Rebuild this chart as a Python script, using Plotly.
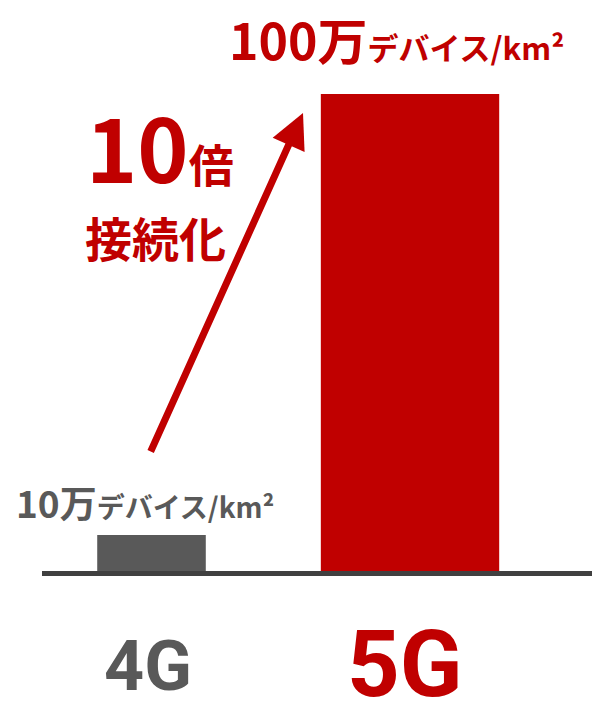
import plotly.graph_objects as go

# ---- data ----
categories = ["4G", "5G"]
density_man = [10, 100]          # 万デバイス/km²
bar_colors = ["#595959", "#C00000"]
value_labels = ["10万", "100万"]
unit_label = "デバイス/km²"
ratio_label = "10倍"
ratio_sub = "接続化"

W, H = 592, 701
ML, MR, MT, MB = 42, 0, 0, 130
PW, PH = W - ML - MR, H - MT - MB

def py(p):  # pixel y -> paper y
    return (H - MB - p) / PH

def px(p):  # pixel x -> paper x
    return (p - ML) / PW

JP = "Noto Sans CJK JP"
RED = "#C00000"
GRAY = "#595959"

fig = go.Figure()
fig.add_trace(go.Bar(
    x=categories, y=density_man,
    width=[0.42, 0.69],
    marker=dict(color=bar_colors, line=dict(width=0)),
    hoverinfo="skip",
))

ann = []
# value labels above bars
ann.append(dict(
    x=categories[0], xref="x", xshift=-7, y=py(502), yref="paper",
    xanchor="center", yanchor="middle", showarrow=False,
    text=f"{value_labels[0]}<span style='font-size:28px'>{unit_label}</span>",
    font=dict(family=JP, size=37, color=GRAY, weight=700),
))
ann.append(dict(
    x=categories[1], xref="x", xshift=-14, y=py(38), yref="paper",
    xanchor="center", yanchor="middle", showarrow=False,
    text=f"{value_labels[1]}<span style='font-size:31px'>{unit_label}</span>",
    font=dict(family=JP, size=50, color=RED, weight=700),
))
# ratio text
ann.append(dict(
    x=px(84), xref="paper", y=py(145), yref="paper",
    xanchor="left", yanchor="middle", showarrow=False,
    text=f"{ratio_label[:2]}<span style='font-size:45px'>{ratio_label[2:]}</span>",
    font=dict(family=JP, size=87, color=RED, weight=700),
))
ann.append(dict(
    x=px(83), xref="paper", y=py(236), yref="paper",
    xanchor="left", yanchor="middle", showarrow=False,
    text=ratio_sub,
    font=dict(family=JP, size=47, color=RED, weight=700),
))
# arrow
ann.append(dict(
    x=px(303), y=py(113), xref="x domain", yref="y domain",
    ax=px(150), ay=py(453), axref="x domain", ayref="y domain",
    text="", showarrow=True, arrowhead=2, arrowsize=1.0, arrowwidth=7,
    arrowcolor=RED, standoff=0, startstandoff=0,
))
# category labels
for c, col, sz, cy, dx in zip(categories, [GRAY, RED], [70, 92], [666, 664], [-4, -5]):
    ann.append(dict(
        x=c, xref="x", xshift=dx, y=py(cy), yref="paper",
        xanchor="center", yanchor="middle", showarrow=False,
        text=c, font=dict(family="Roboto", size=sz, color=col, weight=700),
    ))

fig.update_layout(
    width=W, height=H,
    margin=dict(l=ML, r=MR, t=MT, b=MB),
    paper_bgcolor="white", plot_bgcolor="white",
    showlegend=False,
    xaxis=dict(type="category", range=[-0.4236, 1.704], showline=True,
               linecolor="#404040", linewidth=5, showgrid=False,
               showticklabels=False, ticks="", zeroline=False, fixedrange=True),
    yaxis=dict(type="log", range=[0.9184, 2.2132], visible=False,
               showgrid=False, fixedrange=True),
    annotations=ann,
)

fig.write_html("out.html", config={"displayModeBar": False},
               post_script="document.body.style.margin='0';document.body.style.overflow='hidden';")
